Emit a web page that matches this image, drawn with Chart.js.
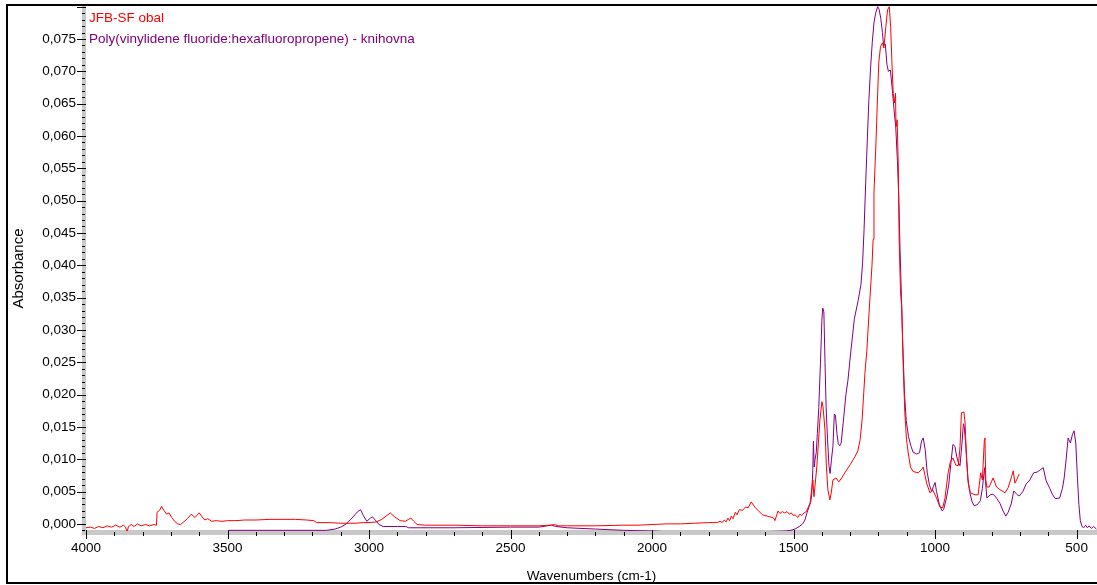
<!DOCTYPE html>
<html>
<head>
<meta charset="utf-8">
<title>FTIR - JFB-SF obal</title>
<script src="https://cdn.jsdelivr.net/npm/chart.js@4.4.1/dist/chart.umd.min.js"></script>
<style>
    body { margin: 0; background: #fff; }
    canvas { display: block; }
</style>
</head>
<body>
<canvas id="spectrumChart" width="1097" height="585"></canvas>
<script>
// measured sample spectrum [wavenumber cm-1, absorbance]
const obalPoints = [
    [4000, -0.0006], [3985, -0.0005], [3970, -0.0007], [3955, -0.0004], [3940, -0.0006],
    [3925, -0.0003], [3910, -0.0005], [3895, -0.0002], [3880, -0.0005], [3868, -0.0002],
    [3860, -0.0005], [3855, -0.0013], [3850, -0.0004], [3840, -0.0001], [3830, -0.0004],
    [3818, 0.0000], [3805, -0.0003], [3790, -0.0001], [3775, -0.0003], [3760, -0.0001],
    [3751, -0.0002], [3749, 0.0018], [3740, 0.0021], [3733, 0.0027], [3725, 0.0021],
    [3715, 0.0015], [3707, 0.0017], [3697, 0.0010], [3687, 0.0004], [3676, 0.0000],
    [3666, -0.0001], [3655, 0.0003], [3642, 0.0008], [3628, 0.0015], [3615, 0.0010],
    [3600, 0.0017], [3590, 0.0011], [3580, 0.0006], [3570, 0.0008], [3556, 0.0004],
    [3540, 0.0005], [3520, 0.0004], [3500, 0.0005], [3470, 0.0005], [3440, 0.0006],
    [3400, 0.0006], [3350, 0.0007], [3300, 0.0007], [3260, 0.0007], [3220, 0.0006],
    [3195, 0.0005], [3185, 0.0002], [3140, 0.0002], [3100, 0.0001], [3050, 0.0001],
    [3020, 0.0002], [3000, 0.0002], [2975, 0.0003], [2955, 0.0007], [2940, 0.0012],
    [2925, 0.0017], [2910, 0.0011], [2890, 0.0005], [2872, 0.0004], [2860, 0.0007],
    [2852, 0.0009], [2842, 0.0004], [2830, -0.0001], [2800, -0.0002], [2700, -0.0002],
    [2600, -0.0003], [2500, -0.0003], [2400, -0.0003], [2360, -0.0002], [2345, -0.0001],
    [2330, -0.0003], [2300, -0.0003], [2200, -0.0003], [2100, -0.0002], [2050, -0.0002],
    [2000, -0.0001], [1950, 0.0000], [1900, 0.0000], [1850, 0.0001], [1800, 0.0002],
    [1770, 0.0002], [1760, 0.0004], [1752, 0.0002], [1745, 0.0006], [1738, 0.0003],
    [1732, 0.0009], [1726, 0.0005], [1720, 0.0012], [1714, 0.0008], [1706, 0.0018],
    [1700, 0.0014], [1692, 0.0022], [1680, 0.0021], [1670, 0.0026], [1660, 0.0025],
    [1650, 0.0034], [1635, 0.0025], [1610, 0.0014], [1584, 0.0011], [1570, 0.0009],
    [1566, 0.0005], [1555, 0.0020], [1548, 0.0016], [1540, 0.0019], [1532, 0.0017],
    [1523, 0.0019], [1515, 0.0015], [1508, 0.0017], [1502, 0.0013], [1495, 0.0014],
    [1485, 0.0010], [1478, 0.0015], [1471, 0.0013], [1463, 0.0017], [1455, 0.0019],
    [1442, 0.0032], [1432, 0.0068], [1428, 0.0042], [1418, 0.0088], [1407, 0.0161],
    [1400, 0.0189], [1396, 0.0181], [1389, 0.0145], [1384, 0.0088], [1379, 0.0053],
    [1372, 0.0037], [1367, 0.0048], [1361, 0.0068], [1350, 0.0071], [1340, 0.0065],
    [1330, 0.0071], [1319, 0.0079], [1301, 0.0091], [1283, 0.0104], [1273, 0.0113],
    [1265, 0.0130], [1258, 0.0161], [1253, 0.0196], [1248, 0.0233], [1241, 0.0269],
    [1237, 0.0300], [1230, 0.0351], [1223, 0.0400], [1219, 0.0440], [1216, 0.0512],
    [1209, 0.0589], [1203, 0.0666], [1199, 0.0713], [1193, 0.0738], [1186, 0.0744],
    [1181, 0.0736], [1174, 0.0769], [1168, 0.0795], [1162, 0.0800], [1157, 0.0769],
    [1153, 0.0718], [1148, 0.0666], [1144, 0.0651], [1140, 0.0666], [1138, 0.0614],
    [1134, 0.0625], [1130, 0.0552], [1127, 0.0439], [1122, 0.0357], [1118, 0.0336],
    [1113, 0.0249], [1107, 0.0172], [1101, 0.0130], [1095, 0.0110], [1087, 0.0088],
    [1078, 0.0081], [1060, 0.0079], [1048, 0.0084], [1042, 0.0088], [1030, 0.0063],
    [1018, 0.0048], [1009, 0.0053], [995, 0.0040], [983, 0.0026], [973, 0.0025],
    [965, 0.0040], [954, 0.0079], [946, 0.0096], [937, 0.0102], [927, 0.0091],
    [918, 0.0090], [912, 0.0119], [907, 0.0172], [898, 0.0173], [894, 0.0156],
    [889, 0.0099], [883, 0.0063], [875, 0.0048], [859, 0.0045], [848, 0.0045],
    [839, 0.0079], [833, 0.0068], [826, 0.0130], [824, 0.0133], [821, 0.0068],
    [817, 0.0057], [809, 0.0057], [795, 0.0071], [783, 0.0057], [771, 0.0053],
    [753, 0.0048], [742, 0.0056], [730, 0.0073], [724, 0.0082], [718, 0.0063],
    [712, 0.0068], [703, 0.0077]
];

// library reference spectrum [wavenumber cm-1, absorbance]
const knihovnaPoints = [
    [4000, -0.0012], [3500, -0.0012], [3495, -0.0010], [3150, -0.0010], [3120, -0.0008],
    [3100, -0.0005], [3080, 0.0000], [3065, 0.0007], [3050, 0.0014], [3040, 0.0019],
    [3030, 0.0022], [3020, 0.0013], [3008, 0.0004], [2995, 0.0009], [2988, 0.0011],
    [2978, 0.0006], [2965, -0.0001], [2950, -0.0004], [2900, -0.0004], [2870, -0.0004],
    [2860, -0.0006], [2700, -0.0006], [2500, -0.0005], [2400, -0.0005], [2370, -0.0003],
    [2355, -0.0002], [2340, -0.0004], [2300, -0.0006], [2200, -0.0008], [2100, -0.0010],
    [2000, -0.0011], [1950, -0.0012], [1800, -0.0012], [1600, -0.0012], [1530, -0.0011],
    [1510, -0.0010], [1495, -0.0008], [1480, -0.0004], [1468, 0.0000], [1460, 0.0006],
    [1452, 0.0018], [1445, 0.0027], [1440, 0.0033], [1436, 0.0045], [1432, 0.0085],
    [1430, 0.0128], [1427, 0.0088], [1424, 0.0100], [1420, 0.0110], [1416, 0.0140],
    [1411, 0.0180], [1405, 0.0250], [1400, 0.0315], [1397, 0.0334], [1393, 0.0328],
    [1389, 0.0250], [1385, 0.0180], [1380, 0.0130], [1375, 0.0090], [1371, 0.0078],
    [1366, 0.0100], [1361, 0.0120], [1356, 0.0170], [1352, 0.0168], [1347, 0.0140],
    [1342, 0.0124], [1337, 0.0121], [1332, 0.0125], [1325, 0.0155], [1315, 0.0200],
    [1308, 0.0222], [1297, 0.0270], [1285, 0.0318], [1272, 0.0345], [1262, 0.0370],
    [1256, 0.0405], [1251, 0.0455], [1245, 0.0530], [1239, 0.0600], [1234, 0.0655],
    [1228, 0.0705], [1222, 0.0745], [1216, 0.0775], [1210, 0.0790], [1203, 0.0800],
    [1198, 0.0796], [1192, 0.0782], [1186, 0.0760], [1182, 0.0740], [1176, 0.0742],
    [1170, 0.0710], [1165, 0.0700], [1158, 0.0702], [1150, 0.0666], [1145, 0.0640],
    [1139, 0.0614], [1133, 0.0560], [1128, 0.0500], [1124, 0.0425], [1119, 0.0350],
    [1114, 0.0275], [1108, 0.0200], [1102, 0.0160], [1094, 0.0135], [1085, 0.0120],
    [1078, 0.0111], [1065, 0.0108], [1055, 0.0110], [1048, 0.0128], [1042, 0.0133],
    [1035, 0.0115], [1028, 0.0080], [1020, 0.0060], [1012, 0.0050], [1006, 0.0058],
    [1000, 0.0064], [995, 0.0050], [985, 0.0030], [975, 0.0020], [970, 0.0022],
    [960, 0.0040], [952, 0.0060], [944, 0.0095], [937, 0.0123], [930, 0.0120],
    [924, 0.0105], [918, 0.0095], [912, 0.0090], [905, 0.0125], [900, 0.0155],
    [897, 0.0150], [893, 0.0130], [889, 0.0105], [884, 0.0070], [878, 0.0050],
    [870, 0.0035], [862, 0.0028], [850, 0.0030], [840, 0.0036], [833, 0.0055],
    [825, 0.0087], [821, 0.0060], [817, 0.0040], [805, 0.0045], [795, 0.0046],
    [783, 0.0040], [770, 0.0031], [760, 0.0020], [750, 0.0012], [742, 0.0018],
    [731, 0.0031], [722, 0.0051], [712, 0.0046], [703, 0.0043], [690, 0.0050],
    [678, 0.0062], [665, 0.0068], [652, 0.0079], [640, 0.0080], [630, 0.0083],
    [618, 0.0087], [608, 0.0067], [595, 0.0055], [585, 0.0045], [575, 0.0039],
    [560, 0.0040], [550, 0.0055], [544, 0.0071], [537, 0.0100], [530, 0.0133],
    [522, 0.0125], [515, 0.0138], [509, 0.0144], [503, 0.0125], [497, 0.0070],
    [492, 0.0030], [487, 0.0005], [481, -0.0004], [475, -0.0006], [468, -0.0002],
    [462, -0.0006], [456, -0.0003], [448, -0.0007], [440, -0.0004], [430, -0.0008]
];

const seriesNames = ['JFB-SF obal', 'Poly(vinylidene fluoride:hexafluoropropene) - knihovna'];
const seriesColors = ['#ff0000', '#800080'];

const xTicks = [4000, 3500, 3000, 2500, 2000, 1500, 1000, 500];
const yTicks = [0, 0.005, 0.010, 0.015, 0.020, 0.025, 0.030, 0.035,
                0.040, 0.045, 0.050, 0.055, 0.060, 0.065, 0.070, 0.075];

const FONT = 'Liberation Sans, Arial, sans-serif';

function toXY(points) {
    return points.map(function (p) { return { x: p[0], y: p[1] }; });
}

// grey axis bars with minor/major ticks, names in the corner, outer frame
const spectrumDecor = {
    id: 'spectrumDecor',
    beforeDatasetsDraw(chart) {
        const ctx = chart.ctx;
        const area = chart.chartArea;
        const xs = chart.scales.x;
        const ys = chart.scales.y;
        ctx.save();
        ctx.fillStyle = '#c8c8c8';
        ctx.fillRect(area.left - 4, area.top, 4, area.bottom - area.top + 4);
        ctx.fillRect(area.left - 4, area.bottom - 1, area.right - area.left + 4, 5);

        ctx.fillStyle = '#000';
        for (let i = -1; i <= 80; i++) {
            const py = Math.round(ys.getPixelForValue(i / 1000));
            if (py < area.top || py > area.bottom) continue;
            if (i % 5 === 0) {
                ctx.fillRect(area.left - 9, py, 9, 1);
            } else {
                ctx.fillRect(area.left - 4, py, 3, 1);
            }
        }
        for (let i = 5; i <= 40; i++) {
            const px = Math.round(xs.getPixelForValue(i * 100));
            if (px < area.left - 1 || px > area.right) continue;
            if (i % 5 === 0) {
                ctx.fillRect(px, area.bottom - 1, 1, 9);
            } else {
                ctx.fillRect(px, area.bottom + 1, 1, 4);
            }
        }
        ctx.restore();
    },
    afterDatasetsDraw(chart) {
        const ctx = chart.ctx;
        const area = chart.chartArea;
        ctx.save();
        ctx.font = '13.5px ' + FONT;
        ctx.textAlign = 'left';
        ctx.textBaseline = 'middle';
        chart.data.datasets.forEach(function (ds, i) {
            ctx.fillStyle = ds.borderColor;
            ctx.fillText(ds.label, area.left + 3, 18 + i * 21);
        });
        ctx.restore();
    },
    afterDraw(chart) {
        const ctx = chart.ctx;
        ctx.save();
        ctx.strokeStyle = '#000';
        ctx.lineWidth = 2;
        ctx.strokeRect(7, 5, chart.width + 10, 578);
        ctx.restore();
    }
};

window.onload = function () {
    const ctx = document.getElementById('spectrumChart').getContext('2d');

    const spectrumChart = new Chart(ctx, {
        type: 'scatter',
        data: {
            datasets: [
                {
                    label: seriesNames[0],
                    data: toXY(obalPoints),
                    borderColor: seriesColors[0],
                    backgroundColor: seriesColors[0],
                    borderWidth: 1,
                    showLine: true,
                    pointRadius: 0,
                    tension: 0
                },
                {
                    label: seriesNames[1],
                    data: toXY(knihovnaPoints),
                    borderColor: seriesColors[1],
                    backgroundColor: seriesColors[1],
                    borderWidth: 1,
                    showLine: true,
                    pointRadius: 0,
                    tension: 0
                }
            ]
        },
        options: {
            responsive: false,
            animation: false,
            devicePixelRatio: 1,
            layout: { padding: { top: 6, left: 0, right: 0, bottom: 0 } },
            plugins: {
                legend: { display: false },
                tooltip: { enabled: false }
            },
            scales: {
                x: {
                    type: 'linear',
                    reverse: true,
                    min: 428,
                    max: 4000,
                    afterBuildTicks: function (scale) {
                        scale.ticks = xTicks.map(function (v) { return { value: v }; });
                    },
                    afterFit: function (scale) {
                        scale.height = 54;
                        scale.paddingLeft = 0;
                        scale.paddingRight = 0;
                    },
                    grid: {
                        drawOnChartArea: false,
                        drawTicks: true,
                        tickLength: 8,
                        color: 'rgba(0,0,0,0)'
                    },
                    border: { display: false },
                    ticks: {
                        padding: 1,
                        maxRotation: 0,
                        color: '#000',
                        font: { family: FONT, size: 13.5 },
                        callback: function (v) { return String(v); }
                    },
                    title: {
                        display: true,
                        text: 'Wavenumbers (cm-1)',
                        color: '#000',
                        font: { family: FONT, size: 13.5 },
                        padding: { top: 0, bottom: 1 }
                    }
                },
                y: {
                    type: 'linear',
                    min: -0.0011,
                    max: 0.0801,
                    afterBuildTicks: function (scale) {
                        scale.ticks = yTicks.map(function (v) { return { value: v }; });
                    },
                    afterFit: function (scale) {
                        scale.width = 86;
                        scale.paddingTop = 0;
                        scale.paddingBottom = 0;
                    },
                    grid: {
                        drawOnChartArea: false,
                        drawTicks: true,
                        tickLength: 9,
                        color: 'rgba(0,0,0,0)'
                    },
                    border: { display: false },
                    ticks: {
                        padding: 1,
                        color: '#000',
                        font: { family: FONT, size: 13.5 },
                        callback: function (v) { return v.toFixed(3).replace('.', ','); }
                    },
                    title: {
                        display: true,
                        text: 'Absorbance',
                        color: '#000',
                        font: { family: FONT, size: 15 },
                        padding: { top: 10, bottom: 0 }
                    }
                }
            }
        },
        plugins: [spectrumDecor]
    });
};
</script>
</body>
</html>
